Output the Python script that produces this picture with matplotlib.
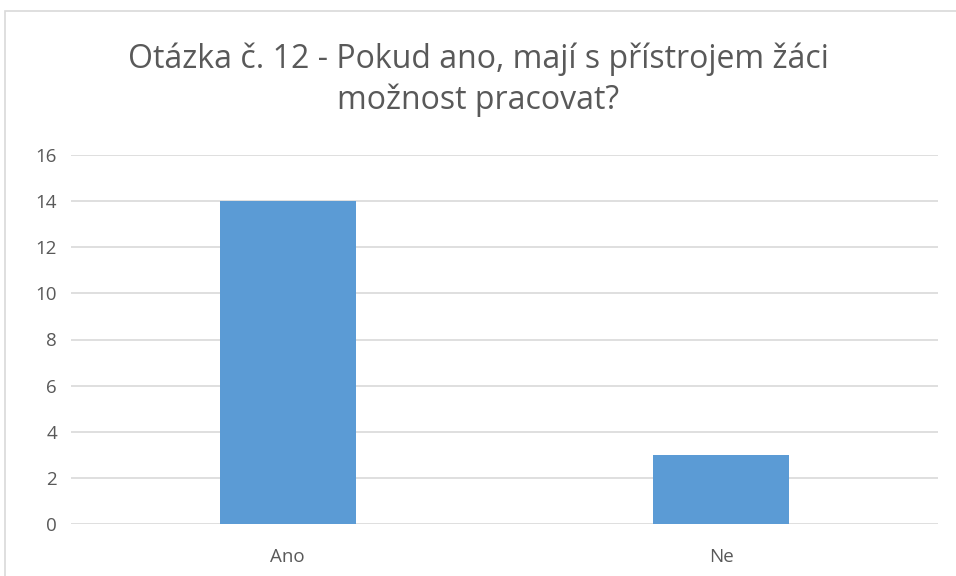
import matplotlib.pyplot as plt
from matplotlib.patches import Rectangle

categories = ['Ano', 'Ne']
values = [14, 3]
y_ticks = [0, 2, 4, 6, 8, 10, 12, 14, 16]
title = 'Otázka č. 12 - Pokud ano, mají s přístrojem žáci\nmožnost pracovat?'

plt.rcParams['font.family'] = ['Open Sans', 'DejaVu Sans']

fig = plt.figure(figsize=(9.56, 5.76), dpi=100)
ax = fig.add_axes([71 / 956, 1 - 524 / 576, 867 / 956, 369 / 576])

# chart border, cut off at the right and bottom edges
fig.patches.append(Rectangle((5 / 956, -0.1), 1.1, 0.1 + 1 - 11 / 576,
                             transform=fig.transFigure, fill=False,
                             edgecolor='#d9d9d9', linewidth=1.2))

x = range(len(categories))
ax.bar(x, values, width=0.313, color='#5b9bd5', zorder=3)

ax.set_xlim(-0.5, 1.5)
ax.set_ylim(0, 16)
ax.set_yticks(y_ticks)
ax.set_xticks(list(x))
ax.set_xticklabels(categories)
ax.yaxis.grid(True, color='#d9d9d9', linewidth=1.2, zorder=0)
for s in ax.spines.values():
    s.set_visible(False)
ax.tick_params(length=0, labelsize=13.5, labelcolor='#595959')
ax.tick_params(axis='y', pad=10)
ax.tick_params(axis='x', pad=17)

fig.text(0.5, 1 - 80 / 576, title, ha='center', va='center', fontsize=23,
         color='#595959', linespacing=1.3)

fig.savefig('out.png', dpi=100)
